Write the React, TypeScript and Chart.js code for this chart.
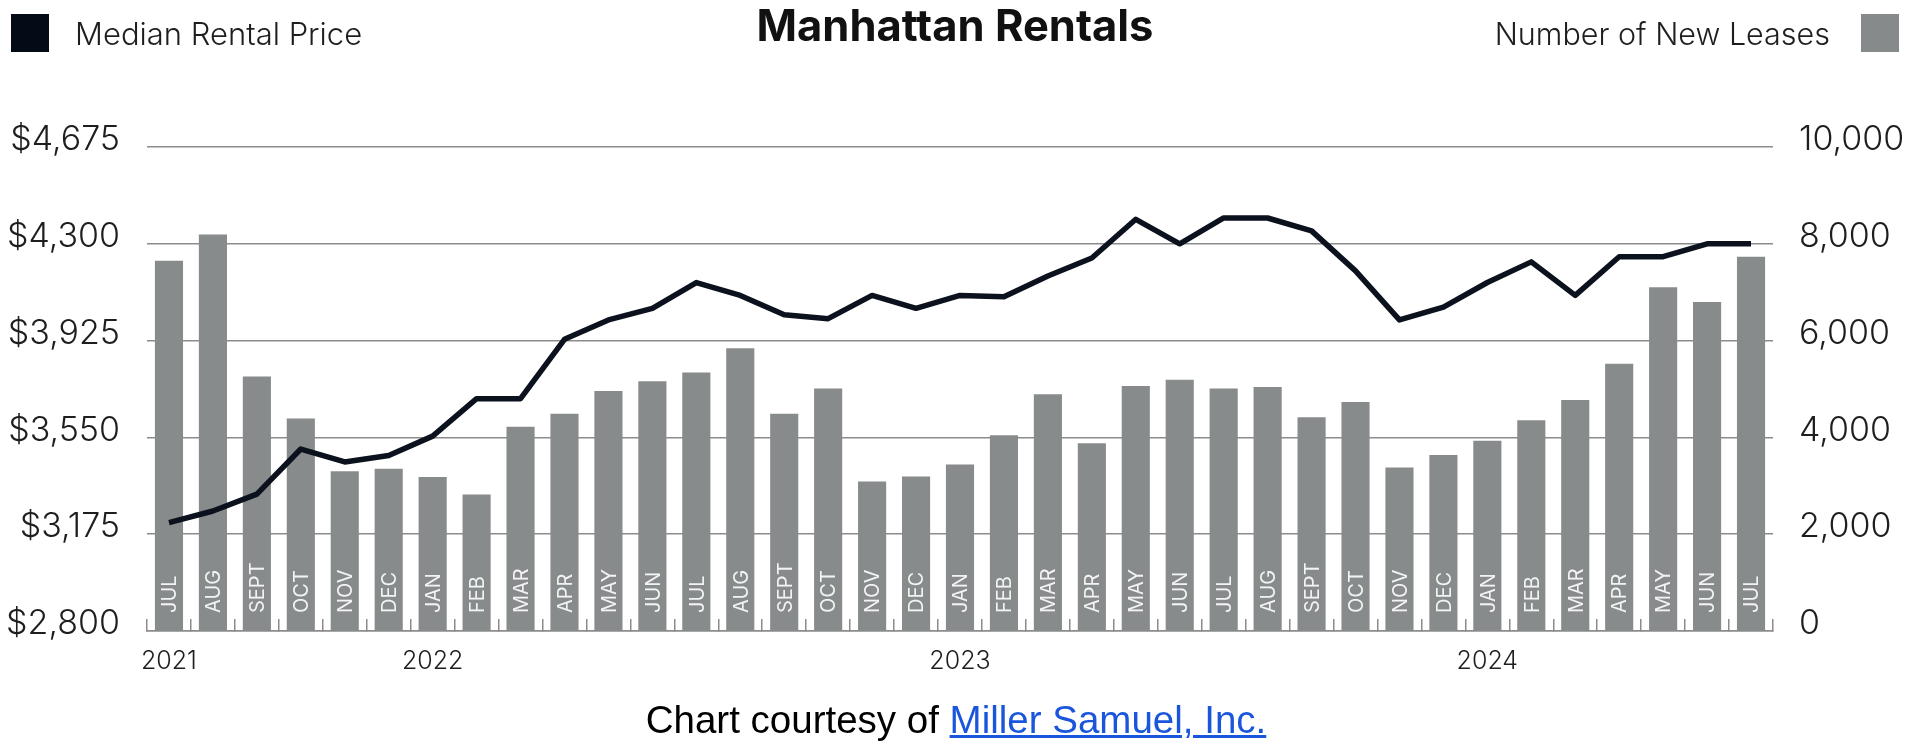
import React, { useEffect, useRef } from 'react';
import { Chart, registerables } from 'chart.js';

Chart.register(...registerables);

const months = [
  'JUL', 'AUG', 'SEPT', 'OCT', 'NOV', 'DEC',
  'JAN', 'FEB', 'MAR', 'APR', 'MAY', 'JUN', 'JUL', 'AUG', 'SEPT', 'OCT', 'NOV', 'DEC',
  'JAN', 'FEB', 'MAR', 'APR', 'MAY', 'JUN', 'JUL', 'AUG', 'SEPT', 'OCT', 'NOV', 'DEC',
  'JAN', 'FEB', 'MAR', 'APR', 'MAY', 'JUN', 'JUL',
];

const yearTickLabels = [
  '2021', '', '', '', '', '',
  '2022', '', '', '', '', '', '', '', '', '', '', '',
  '2023', '', '', '', '', '', '', '', '', '', '', '',
  '2024', '', '', '', '', '', '',
];

const medianRent = [
  3220, 3265, 3330, 3505, 3455, 3480,
  3555, 3700, 3700, 3930, 4005, 4050, 4150, 4100, 4025, 4010, 4100, 4050,
  4100, 4095, 4175, 4245, 4395, 4300, 4400, 4400, 4350, 4195, 4005, 4055,
  4150, 4230, 4100, 4250, 4250, 4300, 4300,
];

const newLeases = [
  7650, 8190, 5260, 4390, 3300, 3350,
  3180, 2820, 4220, 4490, 4960, 5160, 5340, 5840, 4490, 5010, 3090, 3190,
  3440, 4045, 4890, 3880, 5060, 5190, 5010, 5040, 4415, 4730, 3380, 3635,
  3930, 4355, 4775, 5520, 7100, 6800, 7730,
];

const rentTicks = [2800, 3175, 3550, 3925, 4300, 4675];
const leaseTicks = [0, 2000, 4000, 6000, 8000, 10000];

const TEXT_FONT = 'Inter, "Noto Sans", sans-serif';

const monthLabelPlugin = {
  id: 'monthLabels',
  afterDatasetsDraw(chart: any) {
    const meta = chart.getDatasetMeta(1);
    const ctx = chart.ctx;
    const base = chart.chartArea.bottom - 18;
    ctx.save();
    ctx.fillStyle = '#f2f3f3';
    ctx.font = '400 20px ' + TEXT_FONT;
    ctx.textAlign = 'left';
    ctx.textBaseline = 'alphabetic';
    meta.data.forEach((bar: any, i: number) => {
      ctx.save();
      ctx.translate(bar.x, base);
      ctx.rotate(-Math.PI / 2);
      ctx.fillText(months[i], 0, 7.3);
      ctx.restore();
    });
    ctx.restore();
  },
};

export default function App() {
  const canvasRef = useRef<HTMLCanvasElement | null>(null);

  useEffect(() => {
    if (!canvasRef.current) return;
    const chart = new Chart(canvasRef.current, {
      type: 'bar',
      data: {
        labels: months,
        datasets: [
          {
            type: 'line',
            label: 'Median Rental Price',
            data: medianRent,
            yAxisID: 'y',
            borderColor: '#0b111d',
            borderWidth: 5.5,
            pointRadius: 0,
            tension: 0,
            borderJoinStyle: 'round',
            order: 1,
          } as any,
          {
            type: 'bar',
            label: 'Number of New Leases',
            data: newLeases,
            yAxisID: 'y1',
            backgroundColor: '#888b8c',
            barPercentage: 0.64,
            categoryPercentage: 1,
            order: 2,
          } as any,
        ],
      },
      options: {
        responsive: false,
        animation: false,
        maintainAspectRatio: false,
        layout: { padding: { top: 147, left: 0, right: 0, bottom: 0 } },
        plugins: {
          legend: { display: false },
          title: { display: false },
          tooltip: { enabled: false },
        },
        scales: {
          x: {
            offset: true,
            grid: {
              display: true,
              drawOnChartArea: false,
              drawTicks: true,
              tickLength: -12,
              color: '#8c8c8c',
              lineWidth: 1.5,
              offset: true,
            },
            border: { display: true, color: '#8c8c8c', width: 1.5 },
            ticks: {
              autoSkip: false,
              maxRotation: 0,
              minRotation: 0,
              padding: 27,
              color: '#1e1e1e',
              font: { family: TEXT_FONT, size: 25, weight: '300' },
              callback: (_v: any, i: number) => yearTickLabels[i],
            },
            afterFit: (scale: any) => {
              scale.height = 113;
            },
          },
          y: {
            position: 'left',
            min: 2800,
            max: 4675,
            afterBuildTicks: (scale: any) => {
              scale.ticks = rentTicks.map((v) => ({ value: v }));
            },
            grid: {
              color: '#8c8c8c',
              lineWidth: 1.5,
              drawTicks: false,
            },
            border: { display: false },
            ticks: {
              padding: 27,
              labelOffset: -7,
              color: '#1e1e1e',
              font: { family: TEXT_FONT, size: 34, weight: '300' },
              callback: (v: any) => '$' + Number(v).toLocaleString('en-US'),
            },
            afterFit: (scale: any) => {
              scale.width = 147;
            },
          },
          y1: {
            position: 'right',
            min: 0,
            max: 10000,
            afterBuildTicks: (scale: any) => {
              scale.ticks = leaseTicks.map((v) => ({ value: v }));
            },
            grid: { display: false, drawTicks: false },
            border: { display: false },
            ticks: {
              padding: 26,
              labelOffset: -7,
              color: '#1e1e1e',
              font: { family: TEXT_FONT, size: 34, weight: '300' },
              callback: (v: any) => Number(v).toLocaleString('en-US'),
            },
            afterFit: (scale: any) => {
              scale.width = 147;
            },
          },
        },
      } as any,
      plugins: [monthLabelPlugin],
    });
    return () => chart.destroy();
  }, []);

  return (
    <div
      style={{
        position: 'absolute',
        left: 0,
        top: 0,
        width: 1920,
        height: 744,
        background: '#ffffff',
        overflow: 'hidden',
        fontFamily: TEXT_FONT,
      }}
    >
      <canvas
        ref={canvasRef}
        width={1920}
        height={744}
        style={{ position: 'absolute', left: 0, top: 0, width: 1920, height: 744 }}
      />
      <div
        style={{
          position: 'absolute',
          left: 11,
          top: 14,
          width: 38,
          height: 38,
          background: '#050a17',
        }}
      />
      <div
        style={{
          position: 'absolute',
          left: 75,
          top: 14,
          fontSize: 31,
          lineHeight: '40px',
          fontWeight: 300,
          color: '#1e1e1e',
          whiteSpace: 'nowrap',
        }}
      >
        Median Rental Price
      </div>
      <div
        style={{
          position: 'absolute',
          left: 0,
          width: 1910,
          top: 1,
          textAlign: 'center',
          fontSize: 43.5,
          lineHeight: '48px',
          fontWeight: 700,
          color: '#111111',
          whiteSpace: 'nowrap',
        }}
      >
        Manhattan Rentals
      </div>
      <div
        style={{
          position: 'absolute',
          right: 1920 - 1830,
          top: 14,
          fontSize: 30.5,
          lineHeight: '40px',
          fontWeight: 300,
          color: '#1e1e1e',
          whiteSpace: 'nowrap',
          textAlign: 'right',
        }}
      >
        Number of New Leases
      </div>
      <div
        style={{
          position: 'absolute',
          left: 1861,
          top: 14,
          width: 38,
          height: 38,
          background: '#878a8a',
        }}
      />
      <div
        style={{
          position: 'absolute',
          left: 0,
          width: 1912,
          top: 699,
          textAlign: 'center',
          fontFamily: '"Liberation Sans", Arial, sans-serif',
          fontSize: 38.5,
          lineHeight: '42px',
          color: '#000000',
          whiteSpace: 'nowrap',
        }}
      >
        Chart courtesy of{' '}
        <a href="#" style={{ color: '#1a56dc', textDecoration: 'underline' }}>
          Miller Samuel, Inc.
        </a>
      </div>
    </div>
  );
}
